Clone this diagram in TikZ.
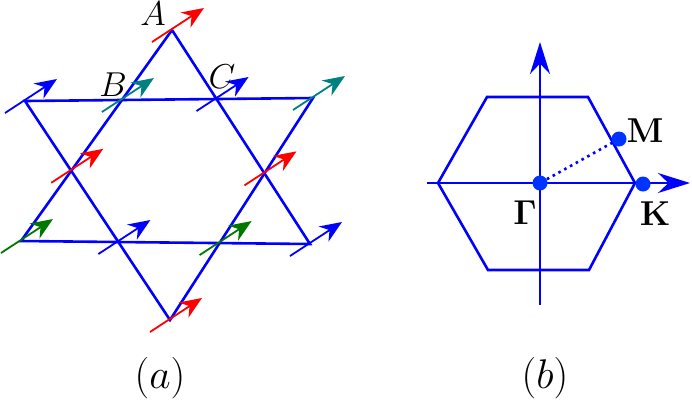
\documentclass[tikz,border=0pt]{standalone}
\usetikzlibrary{arrows.meta,calc}
\definecolor{tealc}{RGB}{0,128,128}
\definecolor{greenc}{RGB}{0,120,0}
\tikzset{
  bond/.style={blue,line width=1.3pt},
  spin/.style={line width=0.9pt,-{Stealth[length=11pt,width=9pt]}},
  axis/.style={blue,line width=1pt,-{Stealth[length=16pt,width=10pt]}},
  kpoint/.style={circle,fill=blue!80!cyan,inner sep=0pt,minimum size=7.5pt},
}
\begin{document}
\begin{tikzpicture}[x=0.5pt,y=-0.5pt]
	\useasboundingbox (0,0) rectangle (692,404);
	%kagome sites
	\coordinate (A) at (172,30);
	\coordinate (TL) at (25,101);
	\coordinate (TR) at (313,98);
	\coordinate (BL) at (21,241);
	\coordinate (BR) at (310,244);
	\coordinate (D) at (170,320);
	\coordinate (B) at (intersection of A--BL and TL--TR);
	\coordinate (C) at (intersection of A--BR and TL--TR);
	\coordinate (ML) at (intersection of A--BL and TL--D);
	\coordinate (MR) at (intersection of A--BR and TR--D);
	\coordinate (BM) at (intersection of BL--BR and TL--D);
	\coordinate (BN) at (intersection of BL--BR and TR--D);

	%triangles
	\draw[bond] (A) -- (BL) -- (BR) -- cycle;
	\draw[bond] (TL) -- (TR) -- (D) -- cycle;

	%spins
	\foreach \s/\c in {A/red,B/tealc,C/blue,TL/blue,TR/tealc,ML/red,MR/red,
	  BL/greenc,BM/blue,BN/greenc,BR/blue,D/red}
	  \draw[spin,\c] ($(\s)+(-20,12)$) -- ($(\s)+(32,-22)$);

	%labels
	\node[font=\LARGE] (lA) at (153,14) {$A$};
	\node[font=\LARGE] (lB) at (113,85) {$B$};
	\node[font=\LARGE] (lC) at (222,77) {$C$};
	\node[font=\huge] (la) at (160,378) {$(a)$};
	\node[font=\huge] (lb) at (545,378) {$(b)$};

	%Brillouin zone
	\draw[bond] (487,97) -- (588,97) -- (635,183) -- (589,270) -- (488,270) -- (438,183) -- cycle;
	\coordinate (xs) at (427,183);
	\coordinate (xe) at (690,183);
	\coordinate (ys) at (540,305);
	\coordinate (ye) at (540,42);
	\draw[axis] (xs) -- (xe);
	\draw[axis] (ys) -- (ye);
	\node[kpoint] (G) at (540,183) {};
	\node[kpoint] (M) at (619,139) {};
	\node[kpoint] (K) at (643,184) {};
	\draw[blue,line width=1.3pt,dotted] (G) -- (M);
	\node[font=\LARGE] (lG) at (525,213) {$\mathbf{\Gamma}$};
	\node[font=\LARGE] (lM) at (645,131) {$\mathbf{M}$};
	\node[font=\LARGE] (lK) at (655,214) {$\mathbf{K}$};
\end{tikzpicture}
\end{document}
